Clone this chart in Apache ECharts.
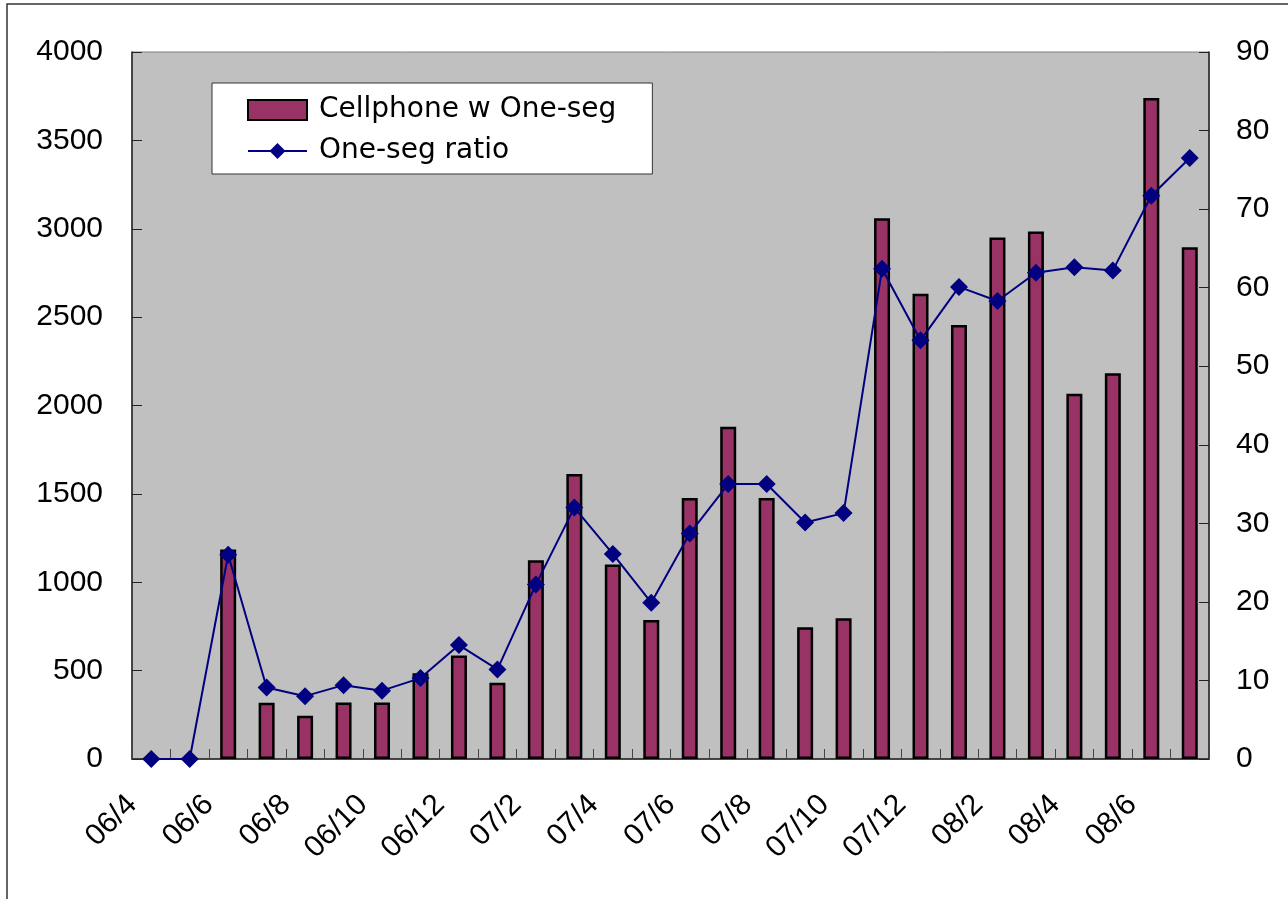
<!DOCTYPE html>
<html>
<head>
<meta charset="utf-8">
<title>One-seg</title>
<script src="https://cdn.jsdelivr.net/npm/echarts@6/dist/echarts.min.js"></script>
<style>
  html, body { margin: 0; padding: 0; background: #fff; }
  #chart { width: 1288px; height: 899px; }
</style>
</head>
<body>
<div id="chart"></div>
<script>
// months 06/4 .. 08/7
const months = [
  "06/4", "06/5", "06/6", "06/7", "06/8", "06/9", "06/10", "06/11", "06/12",
  "07/1", "07/2", "07/3", "07/4", "07/5", "07/6", "07/7", "07/8", "07/9", "07/10", "07/11", "07/12",
  "08/1", "08/2", "08/3", "08/4", "08/5", "08/6", "08/7",
];
// cellphones with one-seg (left axis)
const oneSegPhones = [
  0, 0, 1185, 318, 245, 320, 320, 485, 585,
  432, 1125, 1612, 1100, 786, 1476, 1880, 1476, 746, 797, 3060, 2632,
  2456, 2950, 2985, 2067, 2182, 3740, 2896,
];
// one-seg ratio % (right axis)
const oneSegRatio = [
  0, 0, 26.0, 9.1, 8.0, 9.4, 8.7, 10.3, 14.5,
  11.4, 22.2, 32.0, 26.1, 19.9, 28.7, 35.0, 35.0, 30.1, 31.3, 62.4, 53.3,
  60.1, 58.3, 61.9, 62.6, 62.2, 71.7, 76.5,
];
const leftTicks = { min: 0, max: 4000, interval: 500 };
const rightTicks = { min: 0, max: 90, interval: 10 };

const labelFont = "Liberation Sans";

const chart = echarts.init(document.getElementById("chart"));

const option = {
  backgroundColor: "#fff",
  animation: false,
  graphic: [
    {
      type: "rect",
      z: -10,
      shape: { x: 7, y: 4, width: 1400, height: 1000 },
      style: { fill: "#fff", stroke: "#333", lineWidth: 1.5 },
    },
  ],
  grid: {
    left: 132,
    right: 79,
    top: 52,
    bottom: 140,
    show: true,
    backgroundColor: "#c0c0c0",
    borderColor: "#808080",
    borderWidth: 1,
  },
  legend: {
    orient: "vertical",
    left: 212,
    top: 83,
    backgroundColor: "#fff",
    borderColor: "#333",
    borderWidth: 1,
    padding: [13, 36, 9, 35],
    itemWidth: 59,
    itemHeight: 20,
    itemGap: 13,
    textStyle: {
      fontFamily: "DejaVu Sans",
      fontSize: 28,
      color: "#000",
      padding: [0, 0, 0, 7],
    },
    data: [
      { name: "Cellphone w One-seg", icon: "rect" },
      { name: "One-seg ratio" },
    ],
  },
  xAxis: {
    type: "category",
    data: months,
    boundaryGap: true,
    axisLine: { lineStyle: { color: "#222", width: 1.5 } },
    axisTick: {
      show: true,
      inside: true,
      length: 10,
      interval: 0,
      lineStyle: { color: "#444" },
    },
    axisLabel: {
      interval: 1,
      rotate: 45,
      margin: 22,
      padding: [0, 27, 0, 0],
      fontFamily: labelFont,
      fontSize: 30,
      color: "#000",
    },
    splitLine: { show: false },
  },
  yAxis: [
    {
      type: "value",
      position: "left",
      min: leftTicks.min,
      max: leftTicks.max,
      interval: leftTicks.interval,
      axisLine: { show: true, lineStyle: { color: "#222", width: 1.5 } },
      axisTick: { show: true, inside: true, length: 10, lineStyle: { color: "#222" } },
      axisLabel: {
        margin: 29,
        fontFamily: labelFont,
        fontSize: 30,
        color: "#000",
        formatter: (v) => String(v),
      },
      splitLine: { show: false },
    },
    {
      type: "value",
      position: "right",
      min: rightTicks.min,
      max: rightTicks.max,
      interval: rightTicks.interval,
      axisLine: { show: true, lineStyle: { color: "#222", width: 1.5 } },
      axisTick: { show: true, inside: true, length: 10, lineStyle: { color: "#222" } },
      axisLabel: {
        margin: 27,
        fontFamily: labelFont,
        fontSize: 30,
        color: "#000",
        formatter: (v) => String(v),
      },
      splitLine: { show: false },
    },
  ],
  series: [
    {
      name: "Cellphone w One-seg",
      type: "bar",
      yAxisIndex: 0,
      barWidth: 16,
      itemStyle: { color: "#993366", borderColor: "#000", borderWidth: 2.5 },
      data: oneSegPhones,
    },
    {
      name: "One-seg ratio",
      type: "line",
      yAxisIndex: 1,
      symbol: "diamond",
      symbolSize: [18, 18],
      lineStyle: { color: "#000080", width: 2 },
      itemStyle: { color: "#000080" },
      data: oneSegRatio,
    },
  ],
};

chart.setOption(option);
window.addEventListener("resize", () => {
  chart.resize();
});
</script>
</body>
</html>
